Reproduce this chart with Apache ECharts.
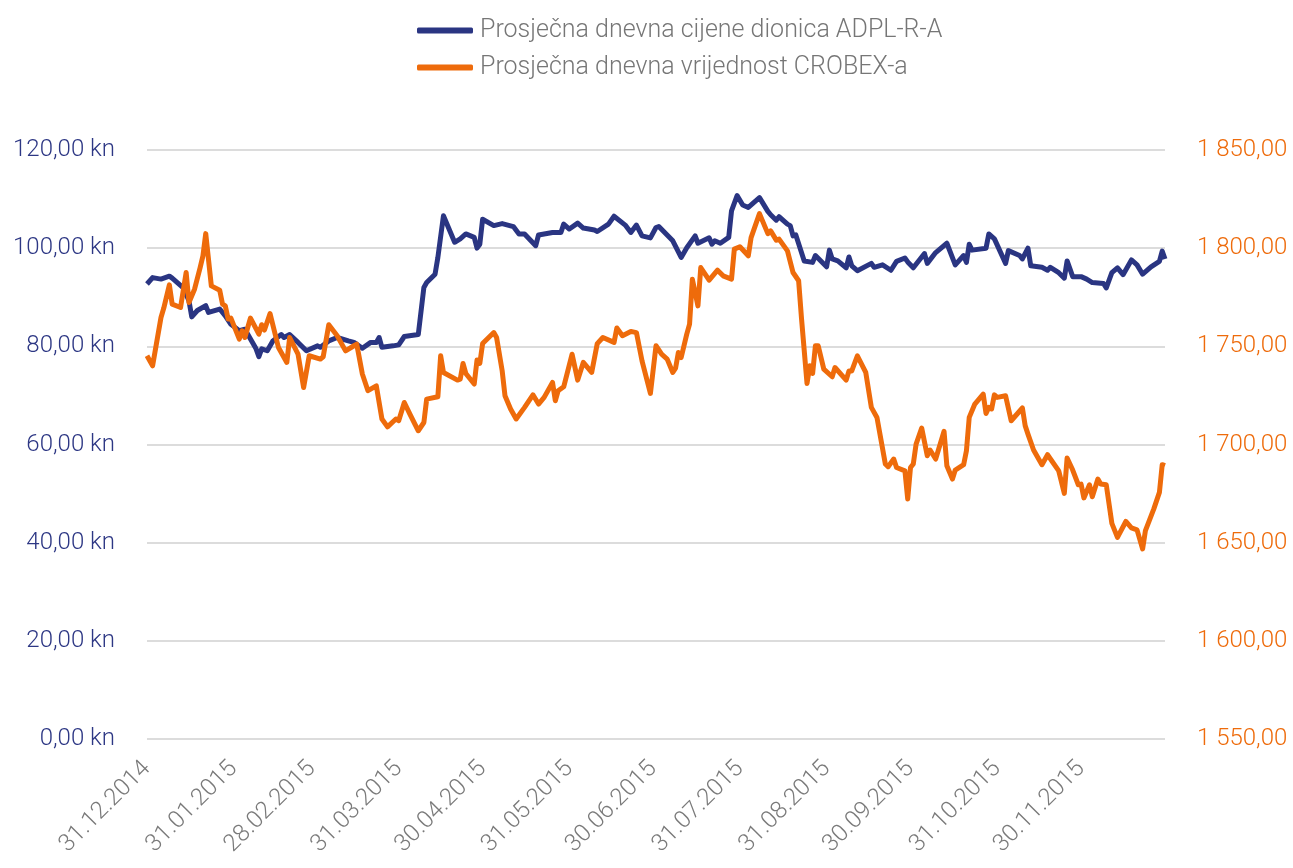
<!DOCTYPE html>
<html>
<head>
  <meta charset="utf-8">
  <script src="https://cdn.jsdelivr.net/npm/echarts@6/dist/echarts.min.js"></script>
</head>
<body style="margin:0">
  <div id="chart" style="width: 1293px; height: 868px;"></div>
  <script>
    // podaci (dan = broj dana od 31.12.2014.)
    var startDate = '31.12.2014';
    var monthEndLabels = ['31.12.2014', '31.01.2015', '28.02.2015', '31.03.2015', '30.04.2015', '31.05.2015',
      '30.06.2015', '31.07.2015', '31.08.2015', '30.09.2015', '31.10.2015', '30.11.2015'];

    var adplDays = [0, 2, 5, 8, 9, 13, 15, 16, 18, 21, 22, 26, 28, 30, 33, 35, 37, 39, 40, 41, 43, 45, 48, 49, 51, 54,
      57, 61, 62, 65, 68, 72, 74, 77, 80, 82, 83, 84, 88, 90, 92, 97, 99, 100, 103, 104, 106, 110, 112, 114, 117, 118,
      119, 120, 124, 127, 131, 133, 135, 139, 140, 145, 148, 149, 151, 154, 156, 160, 161, 165, 167, 171, 173, 175,
      177, 180, 182, 183, 188, 191, 193, 196, 197, 201, 202, 203, 205, 208, 209, 211, 213, 215, 219, 222, 223, 225,
      226, 229, 230, 231, 232, 235, 238, 239, 243, 244, 245, 247, 250, 251, 252, 254, 259, 260, 263, 266, 268, 271,
      272, 274, 278, 279, 282, 286, 289, 292, 293, 294, 295, 300, 301, 303, 307, 308, 312, 313, 315, 316, 320, 322,
      323, 326, 328, 329, 331, 334, 336, 338, 342, 343, 345, 347, 349, 352, 354, 356, 359, 362, 363, 364];
    var adplPrice = [92.7, 94.0, 93.7, 94.3, 93.9, 91.9, 89.3, 86.0, 87.3, 88.3, 86.9, 87.6, 86.2, 84.5, 83.2, 83.5,
      81.5, 79.5, 77.9, 79.5, 79.1, 81.1, 82.4, 81.8, 82.4, 80.8, 79.1, 80.1, 79.8, 81.1, 81.8, 81.1, 80.8, 79.6, 80.8,
      80.8, 81.8, 79.8, 80.1, 80.3, 82.0, 82.4, 92.0, 93.0, 94.7, 98.1, 106.6, 101.2, 101.9, 102.9, 102.2, 100.0,
      100.8, 105.9, 104.6, 105.0, 104.4, 102.9, 102.9, 100.5, 102.7, 103.2, 103.2, 104.9, 103.9, 105.1, 104.1, 103.7,
      103.4, 104.9, 106.5, 104.7, 103.2, 104.7, 102.5, 102.1, 104.2, 104.4, 101.5, 98.1, 100.1, 102.5, 101.0, 102.1,
      100.8, 101.5, 101.0, 102.2, 107.6, 110.7, 108.8, 108.3, 110.3, 107.5, 106.8, 105.7, 106.4, 104.9, 104.6, 102.5,
      102.7, 97.4, 97.1, 98.5, 96.2, 99.6, 97.8, 97.4, 96.0, 98.2, 96.4, 95.4, 96.9, 96.1, 96.6, 95.5, 97.3, 98.0,
      97.2, 96.0, 98.9, 96.9, 99.1, 101.0, 96.6, 98.5, 97.1, 100.8, 99.6, 100.0, 102.9, 101.9, 96.9, 99.5, 98.5, 97.8,
      100.0, 96.4, 96.1, 95.5, 96.1, 95.0, 93.9, 97.4, 94.2, 94.2, 93.7, 93.0, 92.8, 91.9, 95.0, 96.0, 94.6, 97.6,
      96.6, 94.7, 96.2, 97.3, 99.4, 97.8];

    var crobexDays = [0, 2, 5, 6, 8, 9, 12, 14, 15, 17, 19, 20, 21, 23, 26, 27, 28, 29, 30, 33, 34, 35, 37, 40, 41, 42,
      44, 47, 50, 51, 54, 56, 58, 62, 63, 65, 68, 71, 74, 75, 77, 79, 82, 84, 86, 89, 90, 92, 94, 97, 99, 100, 104,
      105, 106, 111, 112, 113, 114, 117, 118, 119, 120, 124, 125, 127, 128, 130, 132, 135, 138, 140, 142, 145, 146,
      147, 149, 152, 154, 156, 159, 161, 163, 167, 168, 170, 173, 175, 177, 180, 182, 184, 186, 188, 189, 190, 191,
      193, 194, 195, 197, 198, 201, 204, 206, 209, 210, 212, 215, 216, 219, 222, 223, 225, 226, 229, 231, 233, 234,
      236, 237, 238, 239, 240, 242, 245, 246, 250, 251, 252, 254, 257, 259, 261, 264, 265, 267, 268, 271, 272, 273,
      274, 275, 277, 279, 280, 282, 285, 286, 288, 289, 292, 293, 294, 296, 299, 300, 301, 302, 303, 304, 307, 309,
      313, 314, 315, 317, 320, 322, 326, 328, 329, 331, 333, 334, 335, 337, 338, 340, 341, 343, 345, 347, 350, 352,
      354, 356, 357, 360, 362, 363, 364];
    var crobexValue = [1745.2, 1740.1, 1764.7, 1769.5, 1781.3, 1771.5, 1769.8, 1787.6, 1772.3, 1779.1, 1790.1, 1796.1,
      1807.4, 1780.8, 1778.6, 1771.5, 1770.6, 1763.9, 1764.4, 1753.7, 1757.9, 1754.5, 1764.4, 1756.2, 1761.0, 1758.3,
      1766.7, 1749.4, 1741.8, 1754.5, 1746.0, 1729.0, 1745.2, 1743.5, 1744.7, 1761.0, 1755.4, 1747.7, 1750.3, 1751.1,
      1735.9, 1727.4, 1729.9, 1713.0, 1709.0, 1713.0, 1712.1, 1721.4, 1715.5, 1707.0, 1711.2, 1723.1, 1724.3, 1745.2,
      1736.7, 1732.8, 1733.3, 1741.3, 1736.2, 1730.8, 1743.0, 1741.3, 1751.4, 1757.0, 1754.5, 1737.5, 1724.8, 1718.1,
      1713.0, 1718.9, 1725.3, 1720.6, 1724.0, 1731.6, 1722.3, 1727.4, 1729.4, 1746.0, 1732.8, 1741.8, 1736.7, 1751.4,
      1754.5, 1752.0, 1759.3, 1755.4, 1757.6, 1757.0, 1742.6, 1726.0, 1750.3, 1746.0, 1743.5, 1736.7, 1738.9, 1746.9,
      1744.3, 1756.2, 1761.3, 1784.2, 1770.6, 1790.1, 1783.7, 1788.8, 1785.9, 1784.2, 1799.5, 1800.7, 1796.1, 1805.4,
      1817.6, 1807.4, 1808.8, 1804.1, 1804.6, 1798.6, 1787.6, 1783.4, 1764.7, 1731.1, 1740.1, 1736.2, 1750.3, 1750.3,
      1738.4, 1734.5, 1739.2, 1732.8, 1737.5, 1737.5, 1745.2, 1736.7, 1718.9, 1713.8, 1690.1, 1688.7, 1692.6, 1688.3,
      1686.6, 1672.2, 1688.3, 1690.1, 1700.2, 1708.4, 1694.3, 1697.2, 1692.6, 1706.7, 1689.2, 1682.4, 1687.0, 1689.7,
      1696.8, 1713.8, 1720.6, 1725.7, 1715.8, 1718.9, 1718.1, 1725.3, 1724.0, 1724.8, 1712.1, 1718.6, 1709.6, 1705.3,
      1697.2, 1689.7, 1694.8, 1686.6, 1675.1, 1693.1, 1687.0, 1679.5, 1679.8, 1672.8, 1679.5, 1673.4, 1682.4, 1679.9,
      1679.5, 1659.8, 1652.7, 1660.8, 1657.5, 1656.5, 1646.8, 1656.1, 1667.2, 1675.6, 1689.7, 1689.2];

    var seriesNames = ['Prosječna dnevna cijene dionica ADPL-R-A', 'Prosječna dnevna vrijednost CROBEX-a'];

    // pretvaranje datuma u broj dana
    function toDays(s) {
      var p = s.split('.');
      var q = startDate.split('.');
      var a = Date.UTC(+p[2], +p[1] - 1, +p[0]);
      var b = Date.UTC(+q[2], +q[1] - 1, +q[0]);
      return Math.round((a - b) / 86400000);
    }
    var labelByDay = {};
    monthEndLabels.forEach(function (l) { labelByDay[toDays(l)] = l; });

    function fmtNum(v) {
      var s = v.toFixed(2).split('.');
      return s[0].replace(/\B(?=(\d{3})+(?!\d))/g, ' ') + ',' + s[1];
    }

    var chart = echarts.init(document.getElementById('chart'));
    var option = {
      animation: false,
      textStyle: { fontFamily: 'Roboto' },
      legend: {
        orient: 'vertical',
        left: 412,
        top: 13,
        itemWidth: 56,
        itemHeight: 6,
        itemGap: 12,
        icon: 'roundRect',
        textStyle: { fontSize: 25, fontWeight: 300, color: '#767676', padding: [0, 0, 0, 2] },
        data: seriesNames
      },
      grid: { left: 147, right: 128, top: 150, bottom: 129 },
      xAxis: {
        type: 'value',
        min: 0,
        max: 364,
        interval: 1,
        splitLine: { show: false },
        axisTick: { show: false },
        axisLine: { show: false },
        axisLabel: {
          rotate: 45,
          margin: 26,
          fontSize: 24,
          fontWeight: 300,
          color: '#7a7a7a',
          formatter: function (v) { return labelByDay[v] || ''; }
        }
      },
      yAxis: [
        {
          type: 'value',
          min: 0,
          max: 120,
          interval: 20,
          axisLine: { show: false },
          axisTick: { show: false },
          splitLine: { lineStyle: { color: '#dcdcdc', width: 2 } },
          axisLabel: {
            margin: 32,
            fontSize: 24,
            fontWeight: 300,
            color: '#2d3784',
            formatter: function (v) { return fmtNum(v) + ' kn'; }
          }
        },
        {
          type: 'value',
          min: 1550,
          max: 1850,
          interval: 50,
          axisLine: { show: false },
          axisTick: { show: false },
          splitLine: { show: false },
          axisLabel: {
            margin: 32,
            fontSize: 24,
            fontWeight: 300,
            color: '#ee6b0b',
            formatter: function (v) { return fmtNum(v); }
          }
        }
      ],
      series: [
        {
          name: seriesNames[0],
          type: 'line',
          yAxisIndex: 0,
          showSymbol: false,
          color: '#2a3582',
          lineStyle: { width: 5, color: '#2a3582', join: 'round' },
          data: adplDays.map(function (d, i) { return [d, adplPrice[i]]; })
        },
        {
          name: seriesNames[1],
          type: 'line',
          yAxisIndex: 1,
          showSymbol: false,
          color: '#ee6b0b',
          lineStyle: { width: 5, color: '#ee6b0b', join: 'round' },
          data: crobexDays.map(function (d, i) { return [d, crobexValue[i]]; })
        }
      ]
    };
    chart.setOption(option);
  </script>
</body>
</html>
